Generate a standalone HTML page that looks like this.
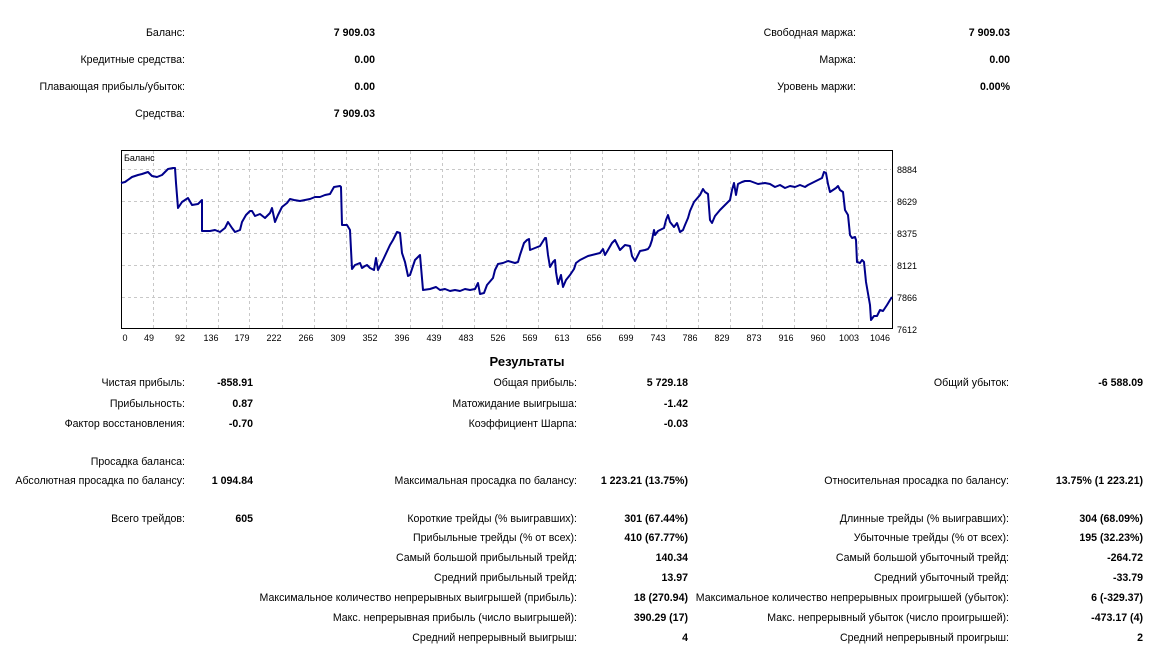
<!DOCTYPE html>
<html><head><meta charset="utf-8">
<style>
body{margin:0;width:1173px;height:659px;background:#fff;font-family:"Liberation Sans","DejaVu Sans",sans-serif;font-size:10.6px;color:#000;position:relative;overflow:hidden}
.l,.v{position:absolute;left:0;text-align:right;white-space:nowrap;line-height:13px;margin-top:1px}
.v{font-weight:bold}
</style></head><body>
<div class="l" style="top:26px;width:185px">Баланс:</div><div class="v" style="top:26px;width:375px">7 909.03</div>
<div class="l" style="top:53px;width:185px">Кредитные средства:</div><div class="v" style="top:53px;width:375px">0.00</div>
<div class="l" style="top:80px;width:185px">Плавающая прибыль/убыток:</div><div class="v" style="top:80px;width:375px">0.00</div>
<div class="l" style="top:107px;width:185px">Средства:</div><div class="v" style="top:107px;width:375px">7 909.03</div>
<div class="l" style="top:26px;width:856px">Свободная маржа:</div><div class="v" style="top:26px;width:1010px">7 909.03</div>
<div class="l" style="top:53px;width:856px">Маржа:</div><div class="v" style="top:53px;width:1010px">0.00</div>
<div class="l" style="top:80px;width:856px">Уровень маржи:</div><div class="v" style="top:80px;width:1010px">0.00%</div>

<svg style="position:absolute;left:0;top:0" width="1173" height="350">
<g stroke="#c8c8c8" stroke-dasharray="3,3" stroke-width="1">
<line x1="122" x2="891" y1="169.5" y2="169.5"/><line x1="122" x2="891" y1="201.5" y2="201.5"/><line x1="122" x2="891" y1="233.5" y2="233.5"/><line x1="122" x2="891" y1="265.5" y2="265.5"/><line x1="122" x2="891" y1="297.5" y2="297.5"/>
<line x1="153.5" x2="153.5" y1="151" y2="328"/><line x1="186.5" x2="186.5" y1="151" y2="328"/><line x1="218.5" x2="218.5" y1="151" y2="328"/><line x1="249.5" x2="249.5" y1="151" y2="328"/><line x1="282.5" x2="282.5" y1="151" y2="328"/><line x1="314.5" x2="314.5" y1="151" y2="328"/><line x1="346.5" x2="346.5" y1="151" y2="328"/><line x1="378.5" x2="378.5" y1="151" y2="328"/><line x1="410.5" x2="410.5" y1="151" y2="328"/><line x1="442.5" x2="442.5" y1="151" y2="328"/><line x1="474.5" x2="474.5" y1="151" y2="328"/><line x1="506.5" x2="506.5" y1="151" y2="328"/><line x1="538.5" x2="538.5" y1="151" y2="328"/><line x1="570.5" x2="570.5" y1="151" y2="328"/><line x1="602.5" x2="602.5" y1="151" y2="328"/><line x1="634.5" x2="634.5" y1="151" y2="328"/><line x1="666.5" x2="666.5" y1="151" y2="328"/><line x1="698.5" x2="698.5" y1="151" y2="328"/><line x1="730.5" x2="730.5" y1="151" y2="328"/><line x1="762.5" x2="762.5" y1="151" y2="328"/><line x1="794.5" x2="794.5" y1="151" y2="328"/><line x1="826.5" x2="826.5" y1="151" y2="328"/><line x1="858.5" x2="858.5" y1="151" y2="328"/>
</g>
<rect x="121.5" y="150.5" width="771" height="178" fill="none" stroke="#000"/>
<polyline fill="none" stroke="#00008b" stroke-width="2" stroke-linejoin="round" points="121,183 125,182 132,177 138,175 142,174 148,172 152,176 157,177 162,175 168,169 173,168 175,168 176,183 178,208 182,202 188,198 192,205 198,204 202,200 202,231 210,231 215,230 220,232 225,228 228,222 232,228 235,232 240,230 242,222 246,215 250,211 252,211 255,216 260,214 265,218 270,213 272,208 275,222 278,215 282,207 287,203 290,199 294,200 300,201 310,199 315,197 320,197 325,195 330,194 334,187 340,186 341,187 342,225 347,225 350,230 352,269 355,265 360,263 362,268 365,266 367,265 370,268 374,270 376,258 378,270 383,260 390,245 393,240 397,232 400,233 402,253 405,262 408,276 410,275 415,260 420,255 423,290 430,289 436,287 440,290 445,289 450,291 455,290 460,291 465,289 470,290 475,289 478,283 480,294 484,293 487,285 493,278 495,270 498,264 503,263 508,261 515,263 518,262 520,255 524,243 527,240 529,239 530,250 535,248 540,246 545,238 546,238 548,255 550,267 553,262 555,260 556,272 558,284 561,275 563,287 566,280 570,275 574,269 576,263 580,260 588,256 600,253 603,249 605,255 608,250 612,243 615,240 618,246 620,250 625,245 630,246 632,256 635,261 640,251 645,250 648,249 650,246 652,240 654,230 655,235 658,231 664,228 666,220 668,215 670,222 674,227 677,223 680,232 683,230 685,225 688,218 690,211 694,202 700,195 703,189 705,192 708,194 710,220 712,223 715,216 720,210 725,205 730,200 732,190 734,183 736,195 738,184 742,182 745,181 750,181 758,184 765,183 770,184 775,187 780,185 785,188 790,186 795,187 800,185 805,187 808,185 812,183 818,180 822,178 824,172 826,173 828,184 830,192 833,190 836,188 838,186 840,190 843,192 845,210 848,215 850,235 852,238 855,237 856,240 857,262 860,263 862,260 864,262 866,282 870,305 871,320 874,316 877,316 880,310 883,311 887,305 890,300 892,297"/>
<g font-family="'Liberation Sans',sans-serif" font-size="9" fill="#000">
<text x="124" y="161">Баланс</text>
<g text-anchor="start"><text x="897" y="173">8884</text><text x="897" y="205">8629</text><text x="897" y="237">8375</text><text x="897" y="269">8121</text><text x="897" y="301">7866</text><text x="897" y="333">7612</text></g>
<g text-anchor="middle"><text x="125" y="341">0</text><text x="149" y="341">49</text><text x="180" y="341">92</text><text x="211" y="341">136</text><text x="242" y="341">179</text><text x="274" y="341">222</text><text x="306" y="341">266</text><text x="338" y="341">309</text><text x="370" y="341">352</text><text x="402" y="341">396</text><text x="434" y="341">439</text><text x="466" y="341">483</text><text x="498" y="341">526</text><text x="530" y="341">569</text><text x="562" y="341">613</text><text x="594" y="341">656</text><text x="626" y="341">699</text><text x="658" y="341">743</text><text x="690" y="341">786</text><text x="722" y="341">829</text><text x="754" y="341">873</text><text x="786" y="341">916</text><text x="818" y="341">960</text><text x="849" y="341">1003</text><text x="880" y="341">1046</text></g>
</g>
</svg>

<div style="position:absolute;left:427px;width:200px;text-align:center;top:354px;font-weight:bold;font-size:13px">Результаты</div>

<div class="l" style="top:376px;width:185px">Чистая прибыль:</div><div class="v" style="top:376px;width:253px">-858.91</div>
<div class="l" style="top:397px;width:185px">Прибыльность:</div><div class="v" style="top:397px;width:253px">0.87</div>
<div class="l" style="top:417px;width:185px">Фактор восстановления:</div><div class="v" style="top:417px;width:253px">-0.70</div>
<div class="l" style="top:376px;width:577px">Общая прибыль:</div><div class="v" style="top:376px;width:688px">5 729.18</div>
<div class="l" style="top:397px;width:577px">Матожидание выигрыша:</div><div class="v" style="top:397px;width:688px">-1.42</div>
<div class="l" style="top:417px;width:577px">Коэффициент Шарпа:</div><div class="v" style="top:417px;width:688px">-0.03</div>
<div class="l" style="top:376px;width:1009px">Общий убыток:</div><div class="v" style="top:376px;width:1143px">-6 588.09</div>

<div class="l" style="top:455px;width:185px">Просадка баланса:</div>
<div class="l" style="top:474px;width:185px">Абсолютная просадка по балансу:</div><div class="v" style="top:474px;width:253px">1 094.84</div>
<div class="l" style="top:474px;width:577px">Максимальная просадка по балансу:</div><div class="v" style="top:474px;width:688px">1 223.21 (13.75%)</div>
<div class="l" style="top:474px;width:1009px">Относительная просадка по балансу:</div><div class="v" style="top:474px;width:1143px">13.75% (1 223.21)</div>

<div class="l" style="top:512px;width:185px">Всего трейдов:</div><div class="v" style="top:512px;width:253px">605</div>
<div class="l" style="top:512px;width:577px">Короткие трейды (% выигравших):</div><div class="v" style="top:512px;width:688px">301 (67.44%)</div>
<div class="l" style="top:531px;width:577px">Прибыльные трейды (% от всех):</div><div class="v" style="top:531px;width:688px">410 (67.77%)</div>
<div class="l" style="top:551px;width:577px">Самый большой прибыльный трейд:</div><div class="v" style="top:551px;width:688px">140.34</div>
<div class="l" style="top:571px;width:577px">Средний прибыльный трейд:</div><div class="v" style="top:571px;width:688px">13.97</div>
<div class="l" style="top:591px;width:577px">Максимальное количество непрерывных выигрышей (прибыль):</div><div class="v" style="top:591px;width:688px">18 (270.94)</div>
<div class="l" style="top:611px;width:577px">Макс. непрерывная прибыль (число выигрышей):</div><div class="v" style="top:611px;width:688px">390.29 (17)</div>
<div class="l" style="top:631px;width:577px">Средний непрерывный выигрыш:</div><div class="v" style="top:631px;width:688px">4</div>

<div class="l" style="top:512px;width:1009px">Длинные трейды (% выигравших):</div><div class="v" style="top:512px;width:1143px">304 (68.09%)</div>
<div class="l" style="top:531px;width:1009px">Убыточные трейды (% от всех):</div><div class="v" style="top:531px;width:1143px">195 (32.23%)</div>
<div class="l" style="top:551px;width:1009px">Самый большой убыточный трейд:</div><div class="v" style="top:551px;width:1143px">-264.72</div>
<div class="l" style="top:571px;width:1009px">Средний убыточный трейд:</div><div class="v" style="top:571px;width:1143px">-33.79</div>
<div class="l" style="top:591px;width:1009px">Максимальное количество непрерывных проигрышей (убыток):</div><div class="v" style="top:591px;width:1143px">6 (-329.37)</div>
<div class="l" style="top:611px;width:1009px">Макс. непрерывный убыток (число проигрышей):</div><div class="v" style="top:611px;width:1143px">-473.17 (4)</div>
<div class="l" style="top:631px;width:1009px">Средний непрерывный проигрыш:</div><div class="v" style="top:631px;width:1143px">2</div>
</body></html>
